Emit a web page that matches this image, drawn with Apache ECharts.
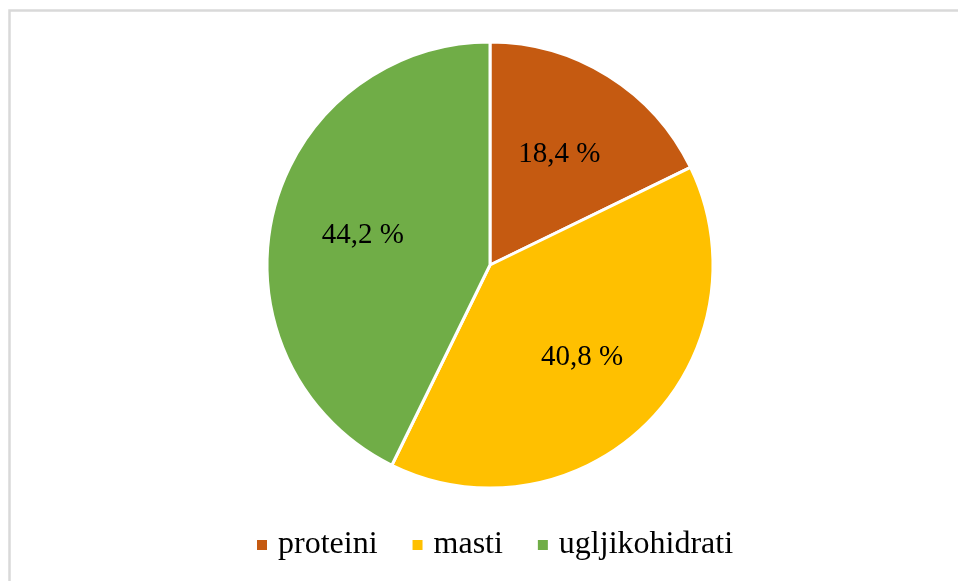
<!DOCTYPE html>
<html>
<head>
<meta charset="utf-8">
<script src="https://cdn.jsdelivr.net/npm/echarts@6/dist/echarts.min.js"></script>
<style>
  html, body { margin: 0; padding: 0; background: #fff; }
  #chart { width: 958px; height: 581px; }
</style>
</head>
<body>
<div id="chart"></div>
<script>
const categories = ['proteini', 'masti', 'ugljikohidrati'];
const values = [18.4, 40.8, 44.2];
const colors = ['#C55A11', '#FFC000', '#70AD47'];

const serif = '"Liberation Serif", "Times New Roman", "DejaVu Serif", serif';

const chart = echarts.init(document.getElementById('chart'));

const pieData = categories.map(function (name, i) {
    return { name: name, value: values[i], itemStyle: { color: colors[i] } };
});

// invisible copy of the pie, only used to push the labels a bit outwards
const labelData = categories.map(function (name, i) {
    return { name: name, value: values[i], itemStyle: { color: 'rgba(0,0,0,0)' } };
});

const fmt = function (p) {
    return String(p.value).replace('.', ',') + ' %';
};

chart.setOption({
    animation: false,
    backgroundColor: '#fff',
    graphic: [{
        type: 'rect',
        shape: { x: 9.5, y: 10.5, width: 1000, height: 1000 },
        style: { fill: 'none', stroke: '#d9d9d9', lineWidth: 2.5 },
        silent: true
    }],
    legend: {
        data: categories,
        bottom: 15,
        left: 250,
        icon: 'rect',
        itemWidth: 12,
        itemHeight: 12,
        itemGap: 33,
        textStyle: {
            fontFamily: serif,
            fontSize: 32,
            color: '#000',
            padding: [0, 0, 0, 5]
        }
    },
    series: [{
        type: 'pie',
        center: [490, 265],
        radius: 223,
        startAngle: 90,
        clockwise: true,
        itemStyle: { borderColor: '#fff', borderWidth: 3 },
        label: { show: false },
        labelLine: { show: false },
        emphasis: { disabled: true },
        data: pieData
    }, {
        type: 'pie',
        center: [490, 265],
        radius: [32, 223],
        startAngle: 90,
        clockwise: true,
        silent: true,
        itemStyle: { borderWidth: 0 },
        label: {
            show: true,
            position: 'inside',
            fontFamily: serif,
            fontSize: 29,
            color: '#000',
            formatter: fmt
        },
        labelLine: { show: false },
        emphasis: { disabled: true },
        data: labelData
    }]
});
</script>
</body>
</html>
